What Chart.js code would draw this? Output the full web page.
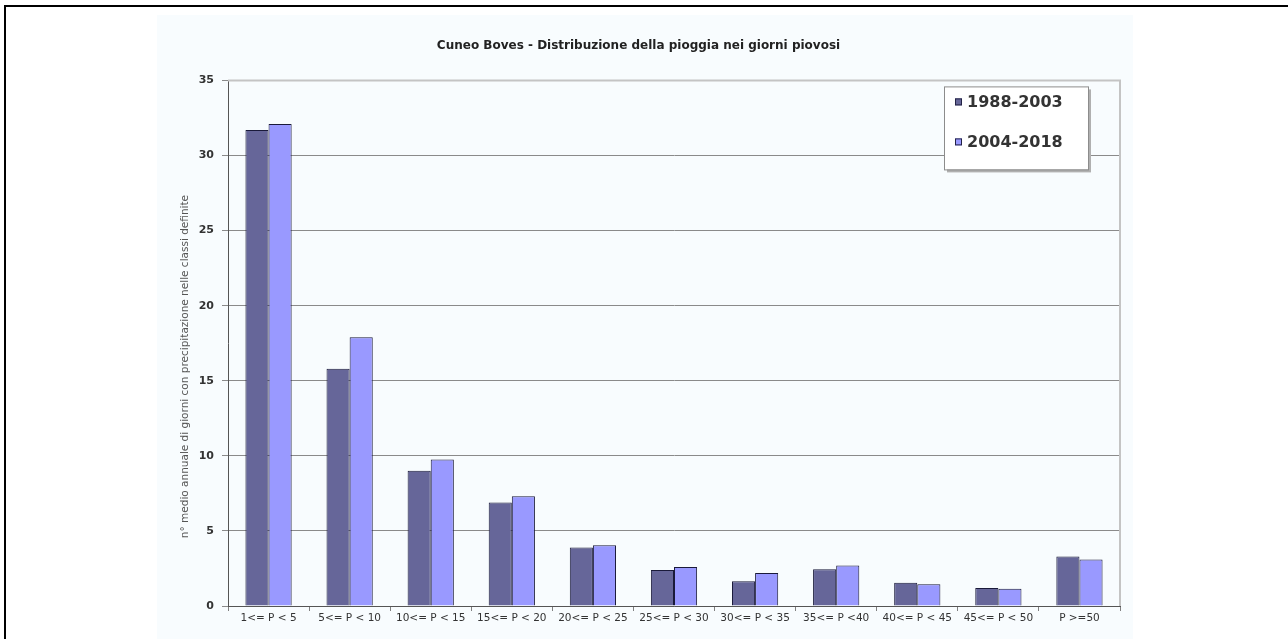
<!DOCTYPE html>
<html>
<head>
<meta charset="utf-8">
<script src="https://cdn.jsdelivr.net/npm/chart.js@4/dist/chart.umd.min.js"></script>
<style>
  body { margin: 0; background: #ffffff; }
  #frame { position: absolute; left: 4px; top: 5px; width: 1300px; height: 700px;
           border-left: 2px solid #000; border-top: 2px solid #000; }
  #wrap { position: absolute; left: 157px; top: 15px; width: 976px; height: 624px; background: #f8fcfe; }
</style>
</head>
<body>
<div id="frame"></div>
<div id="wrap"><canvas id="myChart" width="976" height="624"></canvas></div>
<script>
// data
const classi = ['1<= P < 5', '5<= P < 10', '10<= P < 15', '15<= P < 20', '20<= P < 25',
  '25<= P < 30', '30<= P < 35', '35<= P <40', '40<= P < 45', '45<= P < 50', 'P >=50'];
const periodo1 = '1988-2003';
const periodo2 = '2004-2018';
const giorni1 = [31.7, 15.8, 9.0, 6.9, 3.9, 2.4, 1.65, 2.45, 1.55, 1.2, 3.3];
const giorni2 = [32.1, 17.9, 9.75, 7.3, 4.05, 2.6, 2.2, 2.7, 1.45, 1.15, 3.1];
const yTicks = [0, 5, 10, 15, 20, 25, 30, 35];

const FONT = '"DejaVu Sans", Verdana, sans-serif';

// legenda disegnata dentro il grafico (come in Excel)
const boxLegend = {
  id: 'boxLegend',
  afterDraw(chart) {
    const ctx = chart.ctx;
    const a = chart.chartArea;
    const x = a.right - 176, y = a.top + 6, w = 144, h = 83;
    ctx.save();
    ctx.fillStyle = '#b0b0b0';
    ctx.fillRect(x + 3, y + 3, w, h);
    ctx.fillStyle = '#ffffff';
    ctx.fillRect(x, y, w, h);
    ctx.strokeStyle = '#8c8c8c';
    ctx.lineWidth = 1;
    ctx.strokeRect(x + 0.5, y + 0.5, w, h);
    ctx.font = 'bold 16px ' + FONT;
    ctx.textBaseline = 'middle';
    chart.data.datasets.forEach((ds, i) => {
      const cy = y + 16 + i * 40;
      ctx.fillStyle = ds.backgroundColor;
      ctx.fillRect(x + 11, cy - 4, 7, 7);
      ctx.strokeStyle = '#222244';
      ctx.strokeRect(x + 11.5, cy - 3.5, 6, 6);
      ctx.fillStyle = '#333333';
      ctx.fillText(ds.label, x + 23, cy);
    });
    ctx.restore();
  }
};

// bordo grigio dell'area del grafico
const plotBorder = {
  id: 'plotBorder',
  beforeDatasetsDraw(chart) {
    const ctx = chart.ctx;
    const a = chart.chartArea;
    ctx.save();
    ctx.strokeStyle = '#c4c4c4';
    ctx.lineWidth = 2;
    ctx.beginPath();
    ctx.moveTo(a.left, a.top);
    ctx.lineTo(a.right, a.top);
    ctx.lineTo(a.right, a.bottom);
    ctx.stroke();
    ctx.restore();
  }
};

const data = {
  labels: classi,
  datasets: [{
    label: periodo1,
    data: giorni1,
    backgroundColor: '#666699',
    borderColor: '#1a1a3a',
    borderWidth: 1
  }, {
    label: periodo2,
    data: giorni2,
    backgroundColor: '#9999ff',
    borderColor: '#1a1a3a',
    borderWidth: 1
  }]
};

const config_bar = {
  type: 'bar',
  data,
  options: {
    responsive: false,
    animation: false,
    layout: { padding: { left: 0, right: 13, top: 0, bottom: 0 } },
    datasets: { bar: { categoryPercentage: 0.57, barPercentage: 1.0 } },
    scales: {
      x: {
        grid: { offset: true, drawOnChartArea: false, color: '#808080', tickLength: 5 },
        border: { color: '#555555', width: 1 },
        ticks: { color: '#333333', font: { family: FONT, size: 10.5 }, maxRotation: 0, padding: 1 },
        afterFit: (s) => { s.height = 33; }
      },
      y: {
        min: 0,
        max: 35,
        afterBuildTicks: (s) => { s.ticks = yTicks.map(v => ({ value: v })); },
        grid: { color: '#8a8a8a', tickLength: 6 },
        border: { color: '#555555', width: 1 },
        ticks: { color: '#333333', font: { family: FONT, size: 11, weight: 'bold' }, padding: 8 },
        title: {
          display: true,
          // spazi finali per spostare il testo verso il basso come nell'originale
          text: 'n° medio annuale di giorni con precipitazione nelle classi definite' + ' '.repeat(14),
          color: '#555555',
          font: { family: FONT, size: 10.5 },
          padding: { top: 22, bottom: 0 }
        },
        afterFit: (s) => { s.width = 71; }
      }
    },
    plugins: {
      legend: { display: false },
      tooltip: { enabled: false },
      title: {
        display: true,
        text: 'Cuneo Boves - Distribuzione della pioggia nei giorni piovosi',
        color: '#222222',
        font: { family: FONT, size: 12, weight: 'bold' },
        padding: { top: 24, bottom: 27 }
      }
    }
  },
  plugins: [plotBorder, boxLegend]
};

// initialisation chart
const myChart = new Chart(
  document.getElementById('myChart'),
  config_bar
);
</script>
</body>
</html>
